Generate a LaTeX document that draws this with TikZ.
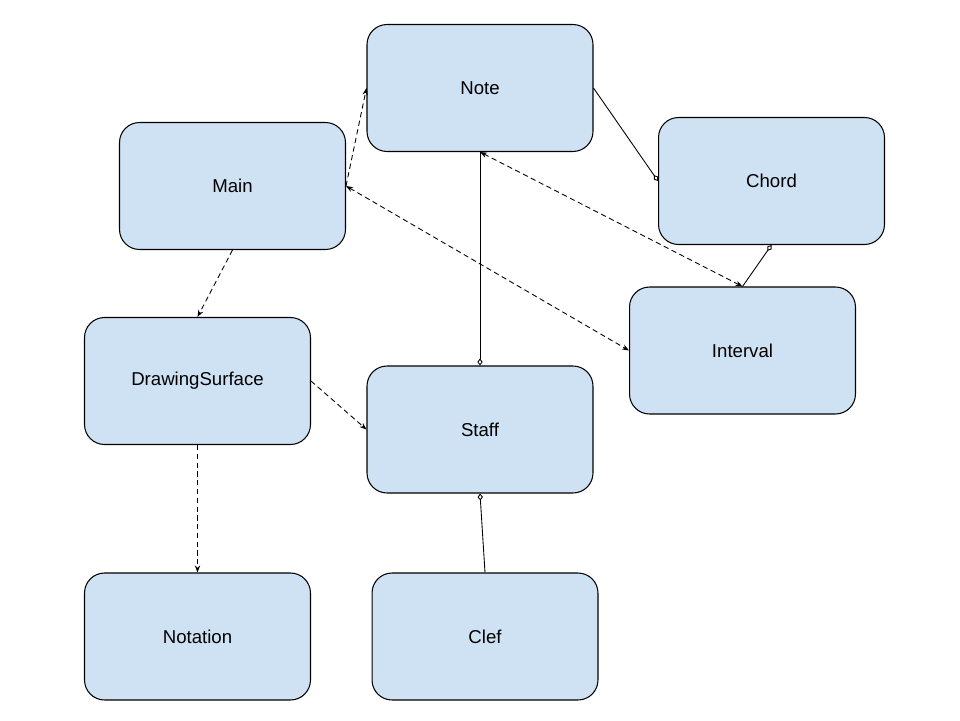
\documentclass[tikz,border=0pt]{standalone}
\usepackage{fontspec}
\setmainfont{Liberation Sans}
\usepackage{tikz}
\usetikzlibrary{arrows.meta}
\definecolor{boxblue}{HTML}{CFE2F3}
\tikzset{
  classbox/.style={draw=black, line width=0.6pt, fill=boxblue, rounded corners=0.4cm,
    minimum width=4.52cm, minimum height=2.54cm, font=\fontsize{10.6}{12}\selectfont},
  uses/.style={line width=0.5pt, dash pattern=on 3pt off 2pt, -{Stealth[length=4pt,width=3pt]}},
  bothuses/.style={line width=0.5pt, dash pattern=on 3pt off 2pt, {Stealth[length=4pt,width=3pt]}-{Stealth[length=4pt,width=3pt]}},
  part/.style={line width=0.5pt, {Diamond[open,length=4pt,width=3pt]}-}
}
\begin{document}
\begin{tikzpicture}[x=0.02cm,y=-0.02cm]
\useasboundingbox (0,0) rectangle (960,720);
\node[classbox] (note) at (480,88) {Note};
\node[classbox] (main) at (232.5,186) {Main};
\node[classbox] (chord) at (771.5,181) {Chord};
\node[classbox] (interval) at (742.5,350.5) {Interval};
\node[classbox] (surface) at (197.5,381) {DrawingSurface};
\node[classbox] (staff) at (480,429.5) {Staff};
\node[classbox] (notation) at (197.5,636.5) {Notation};
\node[classbox] (clef) at (485,636.5) {Clef};

\draw[uses] (main.east) -- (note.west);
\draw[bothuses] (main.east) -- (interval.west);
\draw[bothuses] (note.south) -- (interval.north);
\draw[uses] (main.south) -- (surface.north);
\draw[uses] (surface.east) -- (staff.west);
\draw[uses] (surface.south) -- (notation.north);
\draw[part] (staff.north) -- (note.south);
\draw[part] (staff.south) -- (clef.north);
\draw[part] (chord.west) -- (note.east);
\draw[part] (chord.south) -- (interval.north);
\end{tikzpicture}
\end{document}
